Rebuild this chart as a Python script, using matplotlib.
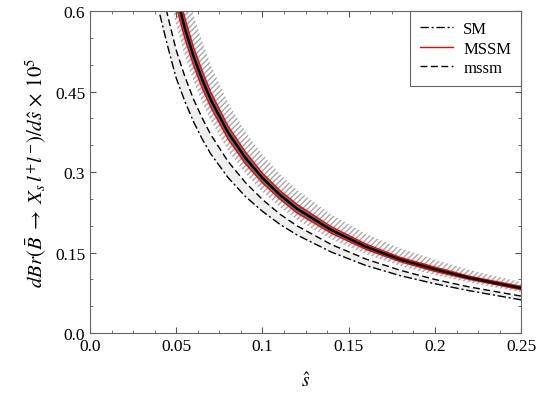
import matplotlib
matplotlib.use("Agg")
import matplotlib.pyplot as plt
import numpy as np

plt.rcParams['font.family'] = ['Liberation Serif', 'DejaVu Serif']
plt.rcParams['mathtext.fontset'] = 'stix'
plt.rcParams['hatch.linewidth'] = 1.0

# s-hat 取样点
s_hat = [0.035, 0.04, 0.045, 0.05, 0.055, 0.06, 0.065, 0.07, 0.08, 0.09,
         0.1, 0.11, 0.12, 0.14, 0.16, 0.18, 0.2, 0.22, 0.25]

# SM (点划线)
sm = [0.69, 0.60, 0.535, 0.475, 0.432, 0.394, 0.362, 0.334, 0.290, 0.255,
      0.227, 0.203, 0.183, 0.151, 0.126, 0.107, 0.092, 0.079, 0.062]
# mssm (虚线)
mssm_low = [0.765, 0.665, 0.592, 0.527, 0.478, 0.436, 0.401, 0.370, 0.320, 0.281,
            0.249, 0.222, 0.200, 0.165, 0.138, 0.117, 0.100, 0.086, 0.069]
# MSSM 中心线 + 红色上下界
mssm_mid = [0.92, 0.80, 0.71, 0.63, 0.568, 0.516, 0.473, 0.435, 0.374, 0.327,
            0.289, 0.258, 0.232, 0.192, 0.161, 0.137, 0.119, 0.103, 0.084]
mssm_hi = [0.950, 0.826, 0.733, 0.651, 0.587, 0.533, 0.489, 0.449, 0.386, 0.338,
           0.298, 0.266, 0.240, 0.198, 0.166, 0.141, 0.123, 0.106, 0.087]
mssm_lo = [0.890, 0.774, 0.687, 0.609, 0.549, 0.499, 0.457, 0.421, 0.362, 0.316,
           0.280, 0.250, 0.224, 0.186, 0.156, 0.133, 0.115, 0.100, 0.081]
# 阴影带（斜线）
band_hi = [1.06, 0.92, 0.817, 0.725, 0.653, 0.593, 0.544, 0.500, 0.430, 0.376,
           0.333, 0.297, 0.267, 0.221, 0.185, 0.158, 0.137, 0.118, 0.095]
band_lo = [0.837, 0.728, 0.646, 0.573, 0.517, 0.470, 0.430, 0.396, 0.340, 0.298,
           0.263, 0.235, 0.211, 0.175, 0.147, 0.125, 0.108, 0.094, 0.076]

x_ticks = [0.0, 0.05, 0.1, 0.15, 0.2, 0.25]
x_labels = ["0.0", "0.05", "0.1", "0.15", "0.2", "0.25"]
y_ticks = [0.0, 0.15, 0.3, 0.45, 0.6]
y_labels = ["0.0", "0.15", "0.3", "0.45", "0.6"]

fig = plt.figure(figsize=(5.39, 4.06), dpi=100)
ax = fig.add_axes([0.167, 0.177, 0.800, 0.793])

# 斜线带
ax.fill_between(s_hat, band_lo, band_hi, facecolor="none", edgecolor="#a8a8a8",
                hatch="//////", linewidth=0)
# SM-mssm 之间浅灰
ax.fill_between(s_hat, sm, mssm_low, color="#eeeeee", linewidth=0)
# MSSM 深灰带
ax.fill_between(s_hat, mssm_lo, mssm_hi, color="#707070", linewidth=0)

ax.plot(s_hat, sm, color="black", linewidth=1.0, dashes=(6, 2, 1.5, 2), label="SM")
ax.plot(s_hat, mssm_hi, color="red", linewidth=1.0, label="MSSM")
ax.plot(s_hat, mssm_lo, color="red", linewidth=1.0)
ax.plot(s_hat, mssm_mid, color="black", linewidth=1.8)
ax.plot(s_hat, mssm_low, color="black", linewidth=1.0, dashes=(5, 2.5), label="mssm")

ax.set_xlim(0, 0.25)
ax.set_ylim(0, 0.6)
ax.set_xticks(x_ticks)
ax.set_xticklabels(x_labels)
ax.set_yticks(y_ticks)
ax.set_yticklabels(y_labels)
ax.set_xticks(np.arange(0, 0.2501, 0.0125), minor=True)
ax.set_yticks(np.arange(0, 0.6001, 0.05), minor=True)
ax.tick_params(which="both", direction="in", top=True, right=True, labelsize=12.5,
               color="#555555")
ax.tick_params(which="major", length=4)
ax.tick_params(which="minor", length=2)
for sp in ax.spines.values():
    sp.set_color("#666666")

ax.set_xlabel(r"$\hat{s}$", fontsize=14, labelpad=12)
ax.set_ylabel(r"$dBr(\bar{B}\;\rightarrow\;X_s\,l^{+}l^{-})/d\hat{s}\,\times\,10^{5}$",
              fontsize=15, labelpad=4)

leg = ax.legend(loc="upper right", fontsize=12, fancybox=False, borderaxespad=0,
                handlelength=2.0, framealpha=1, labelspacing=0.2, borderpad=0.6,
                handletextpad=0.6)
leg.get_frame().set_edgecolor("#666666")
leg.get_frame().set_linewidth(0.8)

fig.savefig("out.png", dpi=100)
